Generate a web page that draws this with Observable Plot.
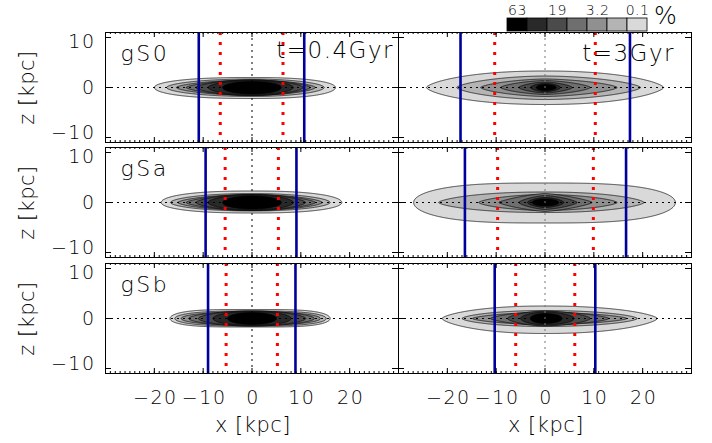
<!DOCTYPE html>
<html>
<head>
<meta charset="utf-8">
<script src="https://cdn.jsdelivr.net/npm/d3@7"></script>
<script src="https://cdn.jsdelivr.net/npm/@observablehq/plot@0.6"></script>
<style>
  html, body { margin: 0; padding: 0; background: #fff; }
  #chart { position: relative; width: 712px; height: 443px; overflow: hidden; background: #fff; }
  #chart svg { position: absolute; }
</style>
</head>
<body>
<div id="chart"></div>
<script>
// ---------- data ----------
const galaxies = ["gS0", "gSa", "gSb"];
const epochs = ["t=0.4Gyr", "t=3Gyr"];
const xTitle = "x [kpc]";
const zTitle = "z [kpc]";
const xDomain = [-30, 30];
const zDomain = [-11, 11];
const xTicks = [-20, -10, 0, 10, 20];
const zTicks = [-10, 0, 10];
const xMinorTicks = d3.range(-29, 30, 1);

// contour fill colours, outermost (0.1%) to innermost (63%)
const levelColors = ["#d9d9d9", "#b4b4b4", "#909090", "#6f6f6f", "#4b4b4b", "#292929", "#000000"];
// colour bar (drawn innermost first) and its labels
const barColors = levelColors.slice().reverse();
const barLabels = ["63", "19", "3.2", "0.1"];
const barLabelIndex = [0, 2, 4, 6];

// contour levels per panel: [x left end, x right end, z top, z bottom, x-shape exponent, z-shape exponent] (kpc)
const levels_gS0_04 = [
  [-20.0, 17.1, 2.0, 2.2, 2.5, 2.0],
  [-17.5, 14.8, 1.7, 1.8, 2.0, 1.8],
  [-15.5, 13.0, 1.5, 1.6, 1.8, 1.6],
  [-13.5, 12.0, 1.5, 1.6, 1.7, 1.5],
  [-11.5, 10.5, 1.5, 1.6, 1.8, 1.6],
  [-9.0, 8.5, 1.4, 1.5, 2.0, 1.8],
  [-6.0, 6.0, 1.2, 1.3, 2.0, 2.0]
];
const levels_gS0_3 = [
  [-24.3, 24.3, 3.3, 3.4, 2.2, 1.5],
  [-18.1, 19.6, 2.3, 2.4, 1.8, 1.5],
  [-13.2, 14.8, 1.7, 1.8, 1.6, 1.5],
  [-9.1, 9.3, 1.4, 1.4, 1.5, 1.5],
  [-5.4, 5.6, 1.1, 1.1, 1.5, 1.5],
  [-3.0, 3.2, 0.85, 0.85, 1.6, 1.6],
  [-1.8, 2.3, 0.6, 0.6, 2.0, 2.0]
];
const levels_gSa_04 = [
  [-18.6, 18.4, 2.3, 2.1, 2.5, 2.0],
  [-16.7, 16.0, 1.8, 1.7, 2.0, 1.8],
  [-15.2, 14.4, 1.6, 1.6, 1.8, 1.6],
  [-13.5, 13.0, 1.6, 1.6, 1.7, 1.5],
  [-11.5, 11.0, 1.6, 1.6, 1.8, 1.6],
  [-9.0, 8.5, 1.5, 1.5, 2.0, 1.8],
  [-6.0, 6.0, 1.3, 1.3, 2.0, 2.0]
];
const levels_gSa_3 = [
  [-26.9, 26.7, 3.9, 4.1, 3.0, 2.0],
  [-21.8, 20.3, 2.1, 2.0, 2.2, 1.5],
  [-13.6, 14.8, 1.6, 1.6, 1.8, 1.5],
  [-9.5, 9.7, 1.8, 1.8, 1.3, 1.3],
  [-5.4, 6.6, 1.4, 1.4, 1.4, 1.4],
  [-3.6, 3.9, 1.0, 1.0, 1.6, 1.6],
  [-2.6, 2.8, 0.7, 0.7, 2.0, 2.0]
];
const levels_gSb_04 = [
  [-16.8, 16.0, 1.8, 1.7, 4.0, 2.0],
  [-15.8, 15.2, 1.5, 1.5, 3.0, 2.0],
  [-14.5, 14.0, 1.3, 1.3, 2.5, 2.0],
  [-13.0, 12.8, 1.5, 1.5, 1.8, 1.8],
  [-11.0, 11.0, 1.5, 1.5, 1.8, 1.8],
  [-8.0, 8.0, 1.4, 1.4, 2.0, 2.0],
  [-5.0, 5.0, 1.2, 1.2, 2.0, 2.0]
];
const levels_gSb_3 = [
  [-21.1, 23.0, 2.5, 3.0, 2.2, 1.5],
  [-17.0, 18.9, 1.6, 1.6, 2.0, 1.6],
  [-14.9, 16.8, 1.2, 1.2, 1.8, 1.5],
  [-11.2, 13.1, 1.4, 1.4, 1.5, 1.5],
  [-7.7, 9.3, 1.5, 1.5, 1.6, 1.6],
  [-5.0, 6.0, 1.3, 1.3, 1.8, 1.8],
  [-3.0, 3.5, 1.0, 1.0, 2.0, 2.0]
];

// vertical marker lines (x, kpc), rows gS0, gSa, gSb
const blueLines_04 = [[-10.9, 10.7], [-9.5, 9.1], [-9.0, 8.9]];
const blueLines_3 = [[-17.3, 17.4], [-16.4, 16.6], [-10.3, 10.3]];
const redLines_04 = [[-6.5, 6.35], [-5.5, 5.4], [-5.3, 5.2]];
const redLines_3 = [[-10.3, 10.3], [-9.7, 9.9], [-6.0, 6.1]];

// ---------- layout ----------
const levelSets = [
  [levels_gS0_04, levels_gSa_04, levels_gSb_04],
  [levels_gS0_3, levels_gSa_3, levels_gSb_3]
];
const blueSets = [blueLines_04, blueLines_3];
const redSets = [redLines_04, redLines_3];
const frameLeft = [105, 398];
const frameTop = [32, 147, 263];
const PW = 293, PH = 110;
const FONT = "'DejaVu Sans', sans-serif";
const WEIGHT = 200;
const chart = document.getElementById("chart");

const fmt = d => d < 0 ? "\u2212" + Math.abs(d) : String(d);

// wider letter spacing, as in the reference's vector font
function spaceText(svg) {
  svg.querySelectorAll("text").forEach(t => {
    const s = t.textContent;
    let ls = 1.5;
    if (galaxies.includes(s)) ls = 2.5;
    else if (epochs.includes(s)) ls = 1.5;
    else if (s === xTitle || s === zTitle) ls = 0.5;
    else if (barLabels.includes(s)) ls = 0.5;
    else if (s === "%") ls = 0;
    t.style.letterSpacing = ls + "px";
  });
}

function lens(e) {
  const [xl, xr, zt, zb, px, pz] = e;
  return (x, y) => {
    const u = x < 0 ? x / xl : x / xr;
    const v = y > 0 ? y / zt : -y / zb;
    return 1 - Math.pow(Math.abs(u), px) - Math.pow(Math.abs(v), pz);
  };
}

function makePanel(r, c) {
  const isLeft = c === 0, isBottom = r === 2;
  const mL = isLeft ? 105 : 10, mR = 10, mT = 10, mB = isBottom ? 71 : 10;
  const marks = [];
  levelSets[c][r].forEach((e, k) => {
    marks.push(Plot.contour({
      x1: xDomain[0], x2: xDomain[1], y1: zDomain[0], y2: zDomain[1],
      value: lens(e), thresholds: [0], pixelSize: 0.5,
      fill: levelColors[k], stroke: "black", strokeWidth: 0.7
    }));
  });
  marks.push(Plot.ruleY([0], {stroke: "black", strokeWidth: 1, strokeDasharray: "2,4"}));
  marks.push(Plot.ruleX([0], {stroke: isLeft ? "black" : "#777", strokeWidth: 1, strokeDasharray: "2,4"}));
  marks.push(Plot.ruleX(redSets[c][r], {stroke: "#ff0000", strokeWidth: 3, strokeDasharray: "3,7"}));
  marks.push(Plot.ruleX(blueSets[c][r], {stroke: "#00009c", strokeWidth: 2.6}));
  // inward ticks on all sides
  marks.push(Plot.tickX(xTicks, {x: d => d, insetTop: PH - 5, stroke: "black"}));
  marks.push(Plot.tickX(xTicks, {x: d => d, insetBottom: PH - 5, stroke: "black"}));
  marks.push(Plot.tickX(xMinorTicks, {x: d => d, insetTop: PH - 2, stroke: "black"}));
  marks.push(Plot.tickX(xMinorTicks, {x: d => d, insetBottom: PH - 2, stroke: "black"}));
  marks.push(Plot.tickY(zTicks, {y: d => d, insetRight: PW - 6, stroke: "black"}));
  marks.push(Plot.tickY(zTicks, {y: d => d, insetLeft: PW - 6, stroke: "black"}));
  marks.push(Plot.frame({stroke: "black", strokeWidth: 1}));
  if (isLeft) {
    const lab = {text: fmt, frameAnchor: "left", dx: -10, textAnchor: "end", lineAnchor: "middle", fontSize: 19};
    marks.push(Plot.text(zTicks.filter(d => d > 0), {y: d => d, dy: 4, ...lab}));
    marks.push(Plot.text(zTicks.filter(d => d === 0), {y: d => d, dy: 0, ...lab}));
    marks.push(Plot.text(zTicks.filter(d => d < 0), {y: d => d, dy: -5, ...lab}));
    marks.push(Plot.text([zTitle], {frameAnchor: "left", dx: -78, rotate: -90, textAnchor: "middle", lineAnchor: "middle", fontSize: 21}));
    marks.push(Plot.text([galaxies[r]], {frameAnchor: "top-left", dx: 15, dy: 21, textAnchor: "start", lineAnchor: "middle", fontSize: 22}));
  }
  if (isBottom) {
    marks.push(Plot.text(xTicks, {x: d => d, text: fmt, frameAnchor: "bottom", dx: 1, dy: 24, lineAnchor: "middle", fontSize: 19}));
    marks.push(Plot.text([xTitle], {frameAnchor: "bottom", dx: 1, dy: 52, lineAnchor: "middle", fontSize: 21}));
  }
  if (r === 0) {
    marks.push(Plot.text([epochs[c]], {frameAnchor: "top-right", dx: isLeft ? -4.5 : -16.5, dy: isLeft ? 18 : 21, textAnchor: "end", lineAnchor: "middle", fontSize: 23}));
  }
  const svg = Plot.plot({
    width: PW + mL + mR, height: PH + mT + mB,
    marginLeft: mL, marginRight: mR, marginTop: mT, marginBottom: mB,
    x: {domain: xDomain, axis: null},
    y: {domain: zDomain, axis: null},
    style: {background: "transparent", overflow: "visible", fontFamily: FONT, fontWeight: WEIGHT, color: "black"},
    marks
  });
  spaceText(svg);
  svg.style.left = (frameLeft[c] - mL) + "px";
  svg.style.top = (frameTop[r] - mT) + "px";
  chart.appendChild(svg);
}

for (let c = 0; c < 2; c++) for (let r = 0; r < 3; r++) makePanel(r, c);

// colour bar
const bar = Plot.plot({
  width: 200, height: 36, marginLeft: 6, marginRight: 53, marginTop: 18, marginBottom: 5,
  x: {type: "band", domain: d3.range(barColors.length), padding: 0, axis: null},
  y: {type: "band", domain: ["bar"], padding: 0, axis: null},
  style: {background: "transparent", overflow: "visible", fontFamily: FONT, fontWeight: WEIGHT, color: "black"},
  marks: [
    Plot.cell(barColors, {x: (d, i) => i, y: () => "bar", fill: d => d, stroke: "black", strokeWidth: 0.8, inset: 0}),
    Plot.text(barLabels, {x: (d, i) => barLabelIndex[i], text: d => d, frameAnchor: "top", dy: -8, lineAnchor: "middle", fontSize: 14}),
    Plot.text(["%"], {frameAnchor: "top-right", dx: 18, dy: -2, textAnchor: "middle", lineAnchor: "middle", fontSize: 24})
  ]
});
spaceText(bar);
bar.style.left = "500px";
bar.style.top = "0px";
chart.appendChild(bar);
</script>
</body>
</html>
